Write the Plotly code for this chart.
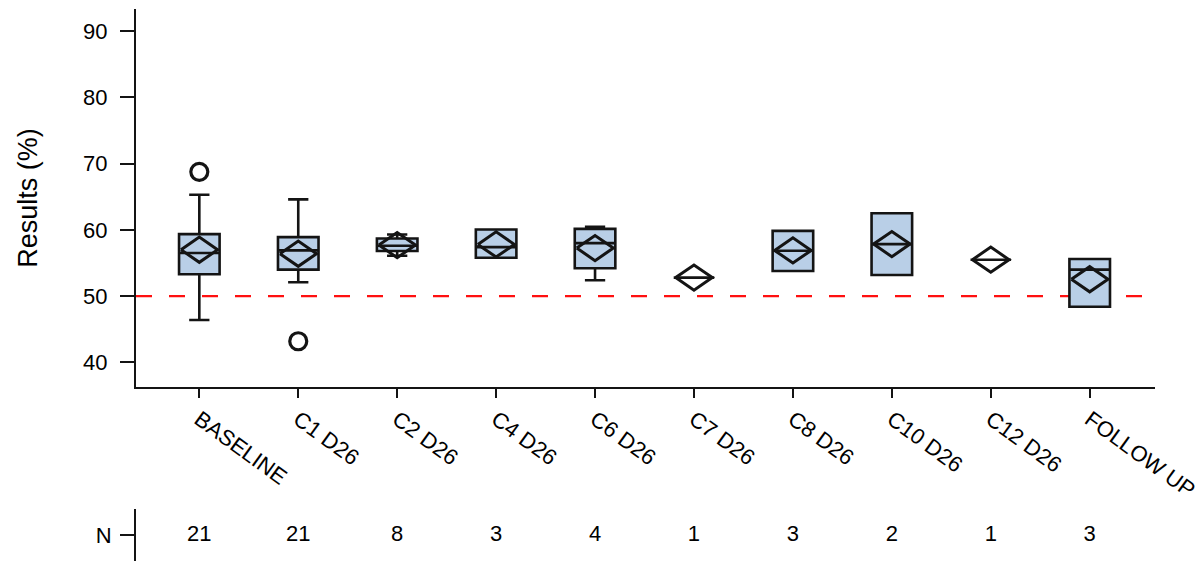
import plotly.graph_objects as go

# Visit labels and subject counts
visits = ["BASELINE", "C1 D26", "C2 D26", "C4 D26", "C6 D26",
          "C7 D26", "C8 D26", "C10 D26", "C12 D26", "FOLLOW UP"]
n_subjects = [21, 21, 8, 3, 4, 1, 3, 2, 1, 3]

# Box statistics per visit (%)
lower_whisker = [46.4, 52.1, 56.1, 55.8, 52.4, 52.8, 53.8, 53.2, 55.5, 48.4]
q1 = [53.3, 54.0, 56.8, 55.8, 54.2, 52.8, 53.8, 53.2, 55.5, 48.4]
median = [56.5, 56.9, 57.6, 57.4, 58.0, 52.8, 56.85, 57.85, 55.5, 54.0]
q3 = [59.35, 58.9, 58.7, 60.05, 60.15, 52.8, 59.85, 62.5, 55.5, 55.6]
upper_whisker = [65.3, 64.6, 59.3, 60.05, 60.45, 52.8, 59.85, 62.5, 55.5, 55.6]
mean = [57.0, 56.4, 57.7, 57.8, 57.25, 52.8, 56.9, 57.85, 55.5, 52.55]

# Outlying observations
outlier_visit = ["BASELINE", "C1 D26"]
outlier_value = [68.75, 43.2]

reference_level = 50
y_ticks = [40, 50, 60, 70, 80, 90]

INK = "#141414"
BOX_FILL = "#b9cfe7"
FONT = "Liberation Sans, Arial, sans-serif"

pos = list(range(len(visits)))

# Mean diamonds, sized in axis units
DIAMOND_HALF_W = 0.185
DIAMOND_HALF_H = 1.9
dx, dy = [], []
for p, m in zip(pos, mean):
    dx += [p - DIAMOND_HALF_W, p, p + DIAMOND_HALF_W, p, p - DIAMOND_HALF_W, None]
    dy += [m, m + DIAMOND_HALF_H, m, m - DIAMOND_HALF_H, m, None]

fig = go.Figure()

fig.add_trace(go.Box(
    x=pos, q1=q1, median=median, q3=q3,
    lowerfence=lower_whisker, upperfence=upper_whisker,
    width=0.41, whiskerwidth=0.5,
    fillcolor=BOX_FILL, line=dict(color=INK, width=2.6),
    boxpoints=False, hoverinfo="skip", showlegend=False,
))

fig.add_trace(go.Scatter(
    x=dx, y=dy, mode="lines",
    line=dict(color=INK, width=3),
    hoverinfo="skip", showlegend=False,
))

fig.add_trace(go.Scatter(
    x=[visits.index(v) for v in outlier_visit], y=outlier_value,
    mode="markers",
    marker=dict(symbol="circle-open", size=17, color=INK, line=dict(width=3.2, color=INK)),
    hoverinfo="skip", showlegend=False,
))

# Subject counts row
fig.add_trace(go.Scatter(
    x=pos, y=[0] * len(pos), mode="text",
    text=[str(n) for n in n_subjects],
    textfont=dict(family=FONT, size=22, color="black"),
    xaxis="x2", yaxis="y2",
    hoverinfo="skip", showlegend=False,
))

fig.add_shape(
    type="line", xref="paper", yref="y",
    x0=0, x1=1, y0=reference_level, y1=reference_level,
    line=dict(color="#ff1010", width=2.2, dash="16px,17px"),
    layer="below",
)

axis_common = dict(showgrid=False, zeroline=False, showline=True,
                   linecolor=INK, linewidth=2, ticks="outside",
                   tickcolor=INK, tickwidth=2)

fig.update_layout(
    width=1199, height=561,
    margin=dict(l=136, r=44, t=9, b=0, autoexpand=False),
    paper_bgcolor="white", plot_bgcolor="white",
    font=dict(family=FONT, color="black"),
    xaxis=dict(
        **axis_common, domain=[0, 1], anchor="y",
        range=[-0.64, 9.66],
        tickmode="array", tickvals=pos, ticktext=visits,
        tickangle=36, ticklen=9, ticklabeloverflow="allow",
        tickfont=dict(family=FONT, size=22, color="black"),
    ),
    yaxis=dict(
        **axis_common, domain=[0.3152, 1], anchor="x",
        range=[36.3, 93.3],
        tickmode="array", tickvals=y_ticks,
        ticklen=14, ticklabelstandoff=8,
        tickfont=dict(family=FONT, size=22, color="black"),
        title=dict(text="Results (%)", standoff=38,
                   font=dict(family=FONT, size=27, color="black")),
    ),
    xaxis2=dict(domain=[0, 1], anchor="y2", matches="x", visible=False),
    yaxis2=dict(
        **axis_common, domain=[0, 0.0942], anchor="x2",
        range=[-1, 1], tickmode="array", tickvals=[0], ticktext=["N"],
        ticklen=14, ticklabelstandoff=4,
        tickfont=dict(family=FONT, size=22, color="black"),
    ),
)

fig.write_html("out.html")
